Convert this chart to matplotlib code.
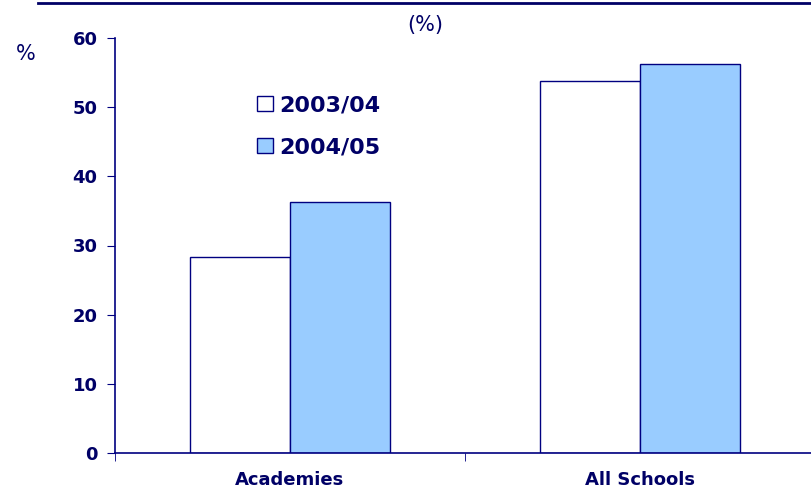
import numpy as np
import matplotlib.pyplot as plt
from matplotlib.lines import Line2D

# datos
categorias = ["Academies", "All Schools"]
series = ["2003/04", "2004/05"]
valores_0304 = [28.3, 53.8]
valores_0405 = [36.3, 56.3]

navy = "#000066"
edge = "#000080"
colores = ["white", "#99ccff"]

fig = plt.figure(figsize=(8.11, 4.91), dpi=100)
ax = fig.add_axes([115 / 811, 38 / 491, 700 / 811, 415 / 491])

x = np.arange(len(categorias))
w = 0.286
b1 = ax.bar(x - w / 2, valores_0304, width=w, color=colores[0], edgecolor=edge, linewidth=1, label=series[0])
b2 = ax.bar(x + w / 2, valores_0405, width=w, color=colores[1], edgecolor=edge, linewidth=1, label=series[1])

ax.set_xlim(-0.5, 1.5)
ax.set_ylim(0, 60)
ax.set_yticks(range(0, 61, 10))
ax.set_xticks(x)
ax.set_xticklabels(categorias)
ax.set_xticks([-0.5, 0.5, 1.5], minor=True)

for s in ["top", "right"]:
    ax.spines[s].set_visible(False)
for s in ["left", "bottom"]:
    ax.spines[s].set_color(edge)
    ax.spines[s].set_linewidth(1.2)

ax.tick_params(axis="y", direction="out", length=5.5, color=edge, labelsize=13, labelcolor=navy, pad=7)
ax.tick_params(axis="x", which="major", length=0, labelsize=13, labelcolor=navy, pad=13)
ax.tick_params(axis="x", which="minor", direction="out", length=6, color=edge)
for t in ax.get_xticklabels() + ax.get_yticklabels():
    t.set_fontweight("bold")

ax.legend(handles=[b1, b2], loc="upper left", bbox_to_anchor=(246 / 811, 1 - 84 / 491),
          bbox_transform=fig.transFigure, frameon=False, handlelength=0.7, handleheight=0.7,
          handletextpad=0.3, labelspacing=1.0, borderpad=0,
          prop={"size": 16, "weight": "bold"}, labelcolor=navy)

fig.text(26 / 811, 1 - 54 / 491, "%", ha="center", va="center", fontsize=15, color=navy)
fig.text(425 / 811, 1 - 25 / 491, "(%)", ha="center", va="center", fontsize=15, color=navy)
fig.add_artist(Line2D([38 / 811, 1], [1 - 3 / 491, 1 - 3 / 491], color=navy, linewidth=2))

fig.savefig("out.png", dpi=100)
